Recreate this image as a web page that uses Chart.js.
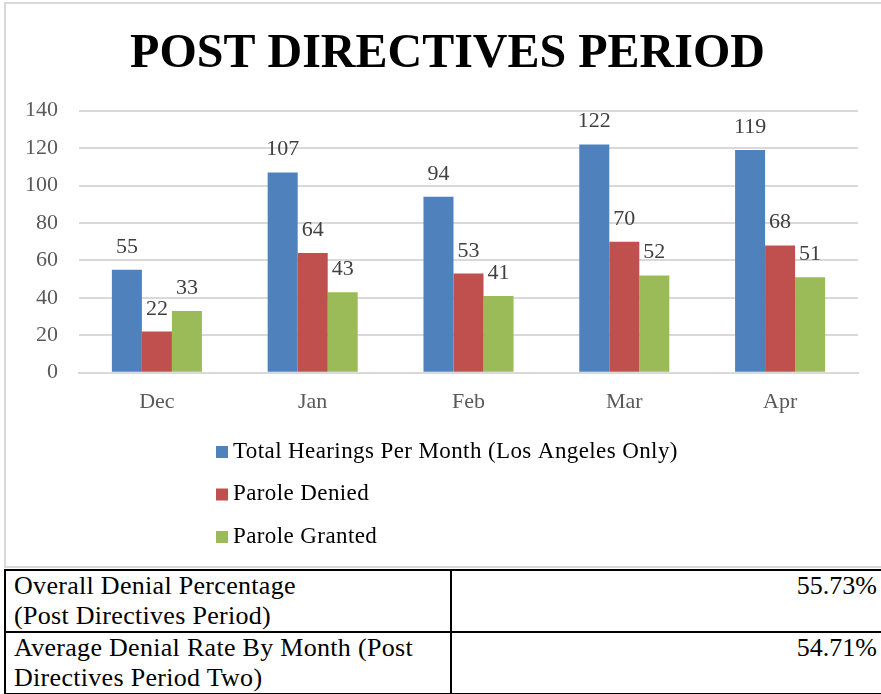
<!DOCTYPE html>
<html>
<head>
<meta charset="utf-8">
<script src="https://cdn.jsdelivr.net/npm/chart.js@4.4.1/dist/chart.umd.min.js"></script>
<style>
  html, body { margin: 0; padding: 0; background: #fff; width: 881px; height: 694px; overflow: hidden; position: relative; }
  #frame { position: absolute; left: 4px; top: 2px; width: 920px; height: 562px; border: 2px solid #d9d9d9; box-sizing: content-box; }
  #wrap { position: absolute; left: 0; top: 0; width: 881px; height: 566px; }
  #frag { position: absolute; left: 423px; top: -25px; font: 24px 'Liberation Serif', serif; line-height: 24px; color: #000; }
  table { position: absolute; left: 4px; top: 569px; border-collapse: collapse; width: 883px; table-layout: fixed;
          font-family: 'Liberation Serif', 'Times New Roman', serif; font-size: 26px; line-height: 30px; color: #000; }
  td { border: 2px solid #000; padding: 0 8px; vertical-align: top; }
  td.lab { width: 428px; letter-spacing: 0.3px; }
  td.val { text-align: right; }
</style>
</head>
<body>
<div id="frag">g</div>
<div id="frame"></div>
<div id="wrap"><canvas id="c"></canvas></div>
<table id="tbl"></table>
<script>
const titleText = 'POST DIRECTIVES PERIOD';
const months = ['Dec', 'Jan', 'Feb', 'Mar', 'Apr'];
const totalHearings = [55, 107, 94, 122, 119];
const paroleDenied = [22, 64, 53, 70, 68];
const paroleGranted = [33, 43, 41, 52, 51];
const seriesNames = ['Total Hearings Per Month (Los Angeles Only)', 'Parole Denied', 'Parole Granted'];
const seriesColors = ['#4F81BD', '#C0504D', '#9BBB59'];
const yMin = 0, yMax = 140, yStep = 20;
const summaryLabels = [['Overall Denial Percentage', '(Post Directives Period)'], ['Average Denial Rate By Month (Post', 'Directives Period Two)']];
const summaryValues = ['55.73%', '54.71%'];

const FONT = "'Liberation Serif', 'Times New Roman', serif";

// summary table
const tbl = document.getElementById('tbl');
summaryLabels.forEach((lines, i) => {
  const tr = document.createElement('tr');
  const a = document.createElement('td'); a.className = 'lab'; a.innerHTML = lines.join('<br>');
  const b = document.createElement('td'); b.className = 'val'; b.textContent = summaryValues[i];
  tr.appendChild(a); tr.appendChild(b); tbl.appendChild(tr);
});

const chartTitle = {
  id: 'chartTitle',
  afterDraw(chart) {
    const ctx = chart.ctx;
    ctx.save();
    ctx.font = 'bold 48px ' + FONT;
    ctx.fillStyle = '#000';
    ctx.textAlign = 'center';
    ctx.textBaseline = 'alphabetic';
    ctx.fillText(titleText, 447.5, 67);
    ctx.restore();
  }
};

const valueLabels = {
  id: 'valueLabels',
  afterDatasetsDraw(chart) {
    const ctx = chart.ctx;
    ctx.save();
    ctx.font = '22px ' + FONT;
    ctx.fillStyle = '#404040';
    ctx.textAlign = 'center';
    ctx.textBaseline = 'alphabetic';
    chart.data.datasets.forEach((ds, di) => {
      const meta = chart.getDatasetMeta(di);
      meta.data.forEach((bar, i) => {
        ctx.fillText(String(ds.data[i]), bar.x, bar.y - 17);
      });
    });
    ctx.restore();
  }
};

const columnLegend = {
  id: 'columnLegend',
  afterDraw(chart) {
    const ctx = chart.ctx;
    ctx.save();
    ctx.font = '23px ' + FONT;
    if ('letterSpacing' in ctx) ctx.letterSpacing = '0.4px';
    ctx.textAlign = 'left';
    ctx.textBaseline = 'alphabetic';
    const x0 = 216, y0 = 446, step = 42.5, box = 12;
    chart.data.datasets.forEach((ds, i) => {
      const y = y0 + i * step;
      ctx.fillStyle = ds.backgroundColor;
      ctx.fillRect(x0, y, box, box);
      ctx.fillStyle = '#000';
      ctx.fillText(ds.label, x0 + 17, y + 11.5);
    });
    ctx.restore();
  }
};

new Chart(document.getElementById('c'), {
  type: 'bar',
  data: {
    labels: months,
    datasets: [
      { label: seriesNames[0], data: totalHearings, backgroundColor: seriesColors[0] },
      { label: seriesNames[1], data: paroleDenied, backgroundColor: seriesColors[1] },
      { label: seriesNames[2], data: paroleGranted, backgroundColor: seriesColors[2] }
    ]
  },
  options: {
    responsive: true,
    maintainAspectRatio: false,
    animation: false,
    datasets: { bar: { categoryPercentage: 0.578, barPercentage: 1.0, borderWidth: 0 } },
    layout: { padding: { left: 10, right: 23, top: 110.7, bottom: 148.3 } },
    plugins: {
      legend: { display: false },
      tooltip: { enabled: false },
      title: { display: false }
    },
    scales: {
      x: {
        grid: { display: false, drawTicks: false },
        border: { display: true, color: '#d9d9d9', width: 2 },
        ticks: { color: '#595959', padding: 16, font: { family: FONT, size: 22, lineHeight: 1.2 } },
        afterFit(scale) { scale.height = 45; }
      },
      y: {
        min: yMin, max: yMax,
        grid: { color: '#d9d9d9', lineWidth: 2, drawTicks: false },
        border: { display: false },
        ticks: { stepSize: yStep, color: '#595959', padding: 21, font: { family: FONT, size: 22, lineHeight: 1.2 } },
        afterFit(scale) { scale.width = 69; }
      }
    }
  },
  plugins: [valueLabels, columnLegend, chartTitle]
});
</script>
</body>
</html>
